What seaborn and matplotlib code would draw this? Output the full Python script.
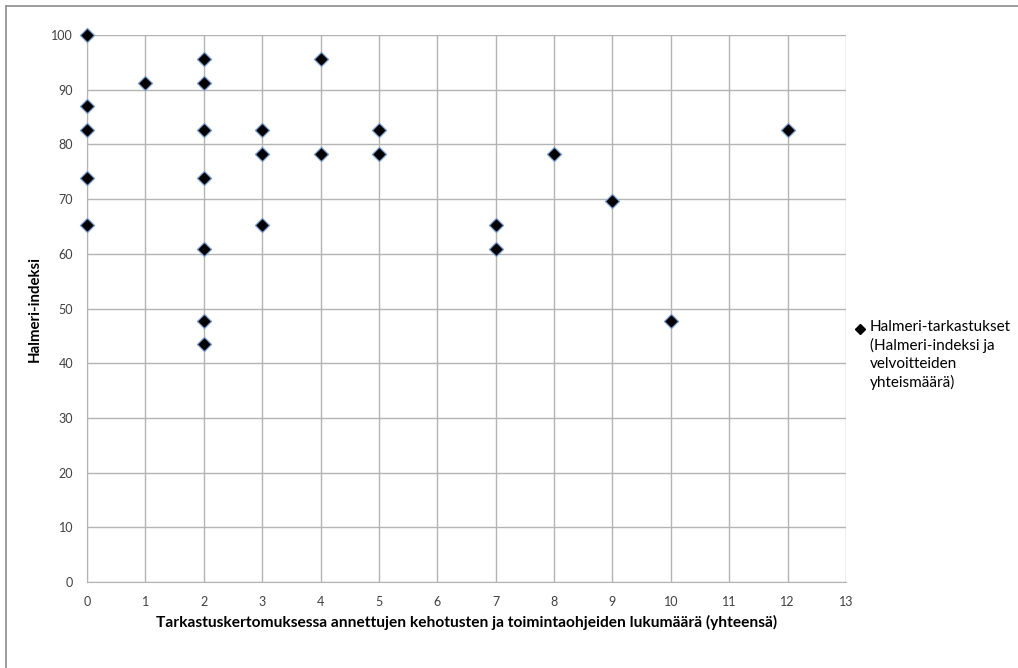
import matplotlib
matplotlib.use("Agg")
import matplotlib.pyplot as plt
import seaborn as sns
import pandas as pd
from matplotlib.lines import Line2D

# Number of recommendations/instructions given in inspection report (total)
velvoitteet = [0, 0, 0, 0, 0,
               1,
               2, 2, 2, 2, 2, 2, 2,
               3, 3, 3,
               4, 4,
               5, 5,
               7, 7,
               8, 9, 10, 12]
# Halmeri index of each inspection
halmeri_indeksi = [100.0, 87.0, 82.6, 73.9, 65.2,
                   91.3,
                   95.7, 91.3, 82.6, 73.9, 60.9, 47.8, 43.5,
                   82.6, 78.3, 65.2,
                   95.7, 78.3,
                   82.6, 78.3,
                   65.2, 60.9,
                   78.3, 69.6, 47.8, 82.6]

x_ticks = list(range(0, 14))
y_ticks = list(range(0, 101, 10))

series_label = "Halmeri-tarkastukset\n(Halmeri-indeksi ja\nvelvoitteiden\nyhteismäärä)"
x_label = "Tarkastuskertomuksessa annettujen kehotusten ja toimintaohjeiden lukumäärä (yhteensä)"
y_label = "Halmeri-indeksi"

df = pd.DataFrame({"x": velvoitteet, "y": halmeri_indeksi})

sns.set_style("white")
plt.rcParams["font.family"] = ["Lato", "DejaVu Sans"]

W, H = 1018, 668
L, R, T, B = 87, 846, 35, 582
fig = plt.figure(figsize=(W / 100, H / 100), dpi=100)
ax = fig.add_axes([L / W, 1 - B / H, (R - L) / W, (B - T) / H])

grid_c = "#b4b4b4"
sns.scatterplot(data=df, x="x", y="y", ax=ax, marker="D", s=52,
                color="black", edgecolor="#7a9fd0", linewidth=0.9,
                zorder=3, clip_on=False, legend=False)

ax.set_xlim(0, 13)
ax.set_ylim(0, 100)
ax.set_xticks(x_ticks)
ax.set_yticks(y_ticks)
ax.grid(True, color=grid_c, linewidth=1.0)
for s in ax.spines.values():
    s.set_visible(False)
ax.spines["left"].set_visible(True)
ax.spines["bottom"].set_visible(True)
ax.spines["left"].set_color(grid_c)
ax.spines["bottom"].set_color(grid_c)
ax.tick_params(axis="both", length=0, labelsize=9, labelcolor="#404040")
ax.tick_params(axis="x", pad=10)
ax.tick_params(axis="y", pad=10)

ax.set_xlabel(x_label, fontsize=11.2, fontweight="bold", color="black", labelpad=5)
ax.set_ylabel(y_label, fontsize=10.8, fontweight="bold", color="black")
ax.yaxis.set_label_coords((42 - L) / (R - L), 0.5)

# series key beside the plot area
key = Line2D([860 / W], [1 - 329 / H], linestyle="none", marker="D",
             markersize=5, color="black", transform=fig.transFigure)
fig.add_artist(key)
fig.text(870 / W, 1 - 320 / H, series_label, ha="left", va="top",
         fontsize=11, linespacing=1.35, color="black",
         transform=fig.transFigure)

# outer chart frame (left and top edges)
frame = "#8c8c8c"
fig.add_artist(Line2D([6 / W, 6 / W], [0, 1 - 6 / H], color=frame, lw=1.2,
                      transform=fig.transFigure))
fig.add_artist(Line2D([6 / W, 1], [1 - 6 / H, 1 - 6 / H], color=frame, lw=1.2,
                      transform=fig.transFigure))

fig.savefig("out.png", dpi=100)
